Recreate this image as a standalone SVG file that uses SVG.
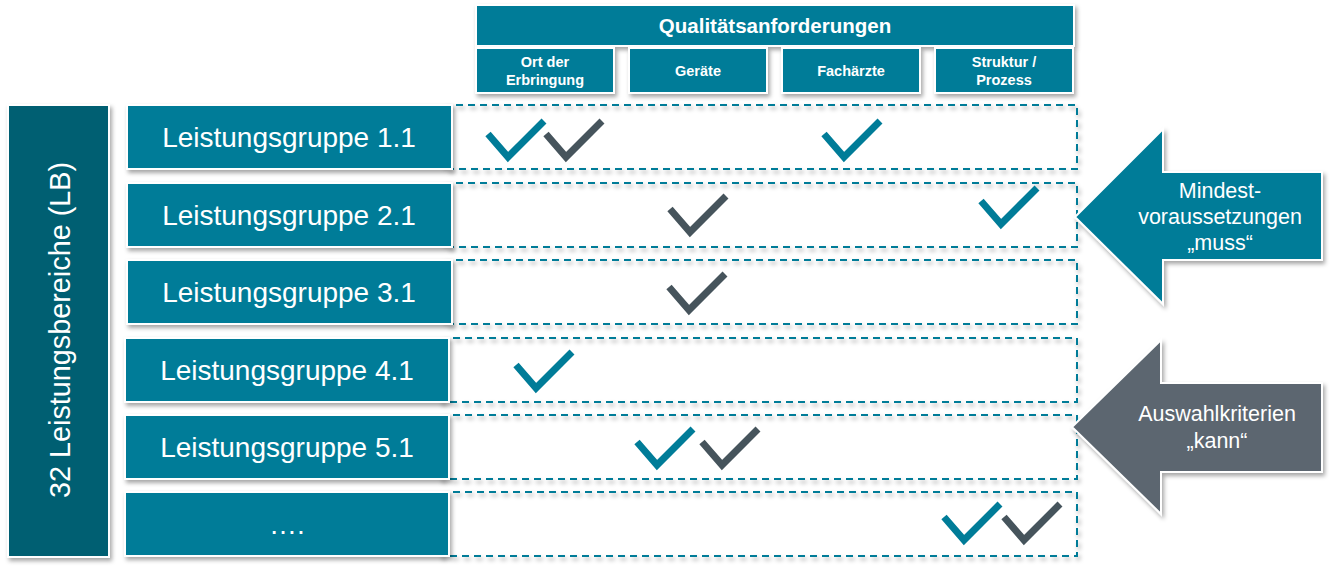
<svg xmlns="http://www.w3.org/2000/svg" width="1330" height="569" viewBox="0 0 1330 569">
<defs>
<filter id="sh" x="-10%" y="-10%" width="130%" height="140%">
<feDropShadow dx="2" dy="3" stdDeviation="2" flood-color="#000" flood-opacity="0.35"/>
</filter>
<style>
.box{fill:#007C98;stroke:#fff;stroke-width:2;filter:url(#sh)}
.lb{fill:#005E72;stroke:#fff;stroke-width:2;filter:url(#sh)}
.dash{fill:none;stroke:#007C98;stroke-width:2;stroke-dasharray:7,5;filter:url(#sh)}
.t{font-family:"Liberation Sans",Arial,sans-serif;fill:#fff;text-anchor:middle}
.g{font-size:28px}
.h{font-weight:bold;font-size:20.5px}
.s{font-weight:bold;font-size:14.5px}
.a{font-size:21.5px}
.ck{fill:none;stroke-width:7;stroke-linejoin:miter}
.c1{stroke:#007C98}
.c2{stroke:#46545C}
</style>
<path id="chk" d="M-20,-26 L0,-3 L36,-39"/>
</defs>
<rect width="1330" height="569" fill="#fff"/>

<g id="header">
<rect class="box" x="476" y="5" width="598" height="41"/>
<text class="t h" x="775" y="33">Qualitätsanforderungen</text>
</g>
<g id="col1">
<rect class="box" x="476" y="48" width="138" height="45"/>
<text class="t s" x="545" y="67">Ort der</text>
<text class="t s" x="545" y="85">Erbringung</text>
</g>
<g id="col2">
<rect class="box" x="629" y="48" width="138" height="45"/>
<text class="t s" x="698" y="76">Geräte</text>
</g>
<g id="col3">
<rect class="box" x="782" y="48" width="138" height="45"/>
<text class="t s" x="851" y="76">Fachärzte</text>
</g>
<g id="col4">
<rect class="box" x="935" y="48" width="138" height="45"/>
<text class="t s" x="1004" y="67">Struktur /</text>
<text class="t s" x="1004" y="85">Prozess</text>
</g>

<g id="connectors">
<rect class="dash" x="444" y="105" width="633" height="64"/>
<rect class="dash" x="444" y="183" width="633" height="64"/>
<rect class="dash" x="444" y="260" width="633" height="64"/>
<rect class="dash" x="441" y="338" width="636" height="64"/>
<rect class="dash" x="441" y="415" width="636" height="64"/>
<rect class="dash" x="441" y="492" width="636" height="64"/>
</g>

<g id="lb">
<rect class="lb" x="8" y="105" width="101" height="452"/>
<text class="t" style="font-size:28.8px" transform="translate(70,330) rotate(-90)">32 Leistungsbereiche (LB)</text>
</g>

<g id="lg1">
<rect class="box" x="127" y="105" width="325" height="64"/>
<text class="t g" x="289" y="147">Leistungsgruppe 1.1</text>
</g>
<g id="lg2">
<rect class="box" x="127" y="183" width="325" height="64"/>
<text class="t g" x="289" y="225">Leistungsgruppe 2.1</text>
</g>
<g id="lg3">
<rect class="box" x="127" y="260" width="325" height="64"/>
<text class="t g" x="289" y="302">Leistungsgruppe 3.1</text>
</g>
<g id="lg4">
<rect class="box" x="125" y="338" width="324" height="64"/>
<text class="t g" x="287" y="380">Leistungsgruppe 4.1</text>
</g>
<g id="lg5">
<rect class="box" x="125" y="415" width="324" height="64"/>
<text class="t g" x="287" y="457">Leistungsgruppe 5.1</text>
</g>
<g id="lg6">
<rect class="box" x="125" y="492" width="324" height="64"/>
<text class="t g" x="287" y="534">….</text>
</g>

<g id="checks">
<use href="#chk" class="ck c1" x="508" y="160"/>
<use href="#chk" class="ck c2" x="566" y="160"/>
<use href="#chk" class="ck c1" x="844" y="160"/>
<use href="#chk" class="ck c2" x="690" y="235"/>
<use href="#chk" class="ck c1" x="1001" y="227"/>
<use href="#chk" class="ck c2" x="689" y="313"/>
<use href="#chk" class="ck c1" x="536" y="391"/>
<use href="#chk" class="ck c1" x="657" y="468"/>
<use href="#chk" class="ck c2" x="722" y="468"/>
<use href="#chk" class="ck c1" x="964" y="543"/>
<use href="#chk" class="ck c2" x="1024" y="543"/>
</g>

<g id="muss">
<polygon points="1075,217 1163,129 1163,172 1322,172 1322,260 1163,260 1163,304" fill="#007C98" stroke="#fff" stroke-width="2" filter="url(#sh)"/>
<text class="t a" x="1220" y="198">Mindest-</text>
<text class="t a" x="1220" y="224">voraussetzungen</text>
<text class="t a" x="1220" y="250">„muss“</text>
</g>
<g id="kann">
<polygon points="1072,427 1161,340 1161,383 1322,383 1322,472 1161,472 1161,514" fill="#5B6670" stroke="#fff" stroke-width="2" filter="url(#sh)"/>
<text class="t a" x="1217" y="421">Auswahlkriterien</text>
<text class="t a" x="1217" y="448">„kann“</text>
</g>
</svg>
